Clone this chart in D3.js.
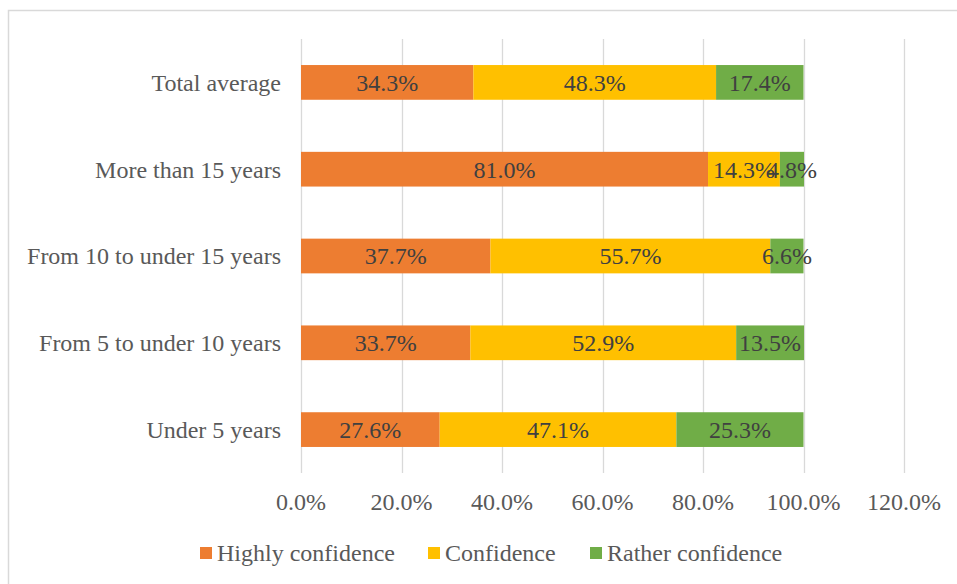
<!DOCTYPE html>
<html><head><meta charset="utf-8">
<script src="https://cdn.jsdelivr.net/npm/d3@7"></script>
<style>html,body{margin:0;padding:0;background:#fff;}svg{display:block;}</style>
</head><body>
<svg id="chart" width="957" height="584"></svg>
<script>
const categories = ["Total average", "More than 15 years", "From 10 to under 15 years", "From 5 to under 10 years", "Under 5 years"];
const seriesNames = ["Highly confidence", "Confidence", "Rather confidence"];
const highly = [34.3, 81.0, 37.7, 33.7, 27.6];
const confidence = [48.3, 14.3, 55.7, 52.9, 47.1];
const rather = [17.4, 4.8, 6.6, 13.5, 25.3];
const tickValues = [0, 20, 40, 60, 80, 100, 120];
const colors = ["#ED7D31", "#FFC000", "#70AD47"];

const svg = d3.select("#chart");
const font = "'Liberation Serif', 'Times New Roman', serif";
const fs = 24;

svg.append("rect").attr("x", 8.5).attr("y", 10.5).attr("width", 960).attr("height", 580)
  .attr("fill", "#fff").attr("stroke", "#D9D9D9").attr("stroke-width", 1.5);

const x = d3.scaleLinear().domain([0, 120]).range([301, 904]);
const y = d3.scaleBand().domain(categories).range([39, 473]).paddingInner(0.6).paddingOuter(0.3);

// gridlines
svg.append("g").selectAll("line").data(tickValues).join("line")
  .attr("x1", d => Math.round(x(d)) + 0.5).attr("x2", d => Math.round(x(d)) + 0.5)
  .attr("y1", 39).attr("y2", 473)
  .attr("stroke", "#D9D9D9").attr("stroke-width", 1.3);

// stacked data
const rows = categories.map((c, i) => ({cat: c, "Highly confidence": highly[i], "Confidence": confidence[i], "Rather confidence": rather[i]}));
const stack = d3.stack().keys(seriesNames)(rows);

const g = svg.append("g");
stack.forEach((layer, li) => {
  g.append("g").selectAll("rect").data(layer).join("rect")
    .attr("x", d => x(d[0])).attr("width", d => x(d[1]) - x(d[0]))
    .attr("y", d => y(d.data.cat)).attr("height", y.bandwidth())
    .attr("fill", colors[li]);
});
stack.forEach((layer, li) => {
  g.append("g").selectAll("text").data(layer).join("text")
    .attr("x", d => (x(d[0]) + x(d[1])) / 2)
    .attr("y", d => y(d.data.cat) + y.bandwidth() / 2)
    .attr("dy", "0.35em").attr("text-anchor", "middle")
    .attr("font-family", font).attr("font-size", fs).attr("fill", "#404040")
    .text(d => d.data[layer.key].toFixed(1) + "%");
});

// category labels
svg.append("g").selectAll("text").data(categories).join("text")
  .attr("x", 281).attr("y", d => y(d) + y.bandwidth() / 2).attr("dy", "0.35em")
  .attr("text-anchor", "end").attr("font-family", font).attr("font-size", fs).attr("fill", "#595959")
  .text(d => d);

// x tick labels
svg.append("g").selectAll("text").data(tickValues).join("text")
  .attr("x", d => x(d)).attr("y", 502).attr("dy", "0.35em")
  .attr("text-anchor", "middle").attr("font-family", font).attr("font-size", fs).attr("fill", "#595959")
  .text(d => d.toFixed(1) + "%");

// legend
const legendX = [200, 428, 590];
const leg = svg.append("g").selectAll("g").data(seriesNames).join("g")
  .attr("transform", (d, i) => `translate(${legendX[i]},553)`);
leg.append("rect").attr("x", 0).attr("y", -6).attr("width", 12).attr("height", 12).attr("fill", (d, i) => colors[i]);
leg.append("text").attr("x", 17).attr("y", 0).attr("dy", "0.35em")
  .attr("font-family", font).attr("font-size", fs).attr("fill", "#595959").text(d => d);
</script>
</body></html>
